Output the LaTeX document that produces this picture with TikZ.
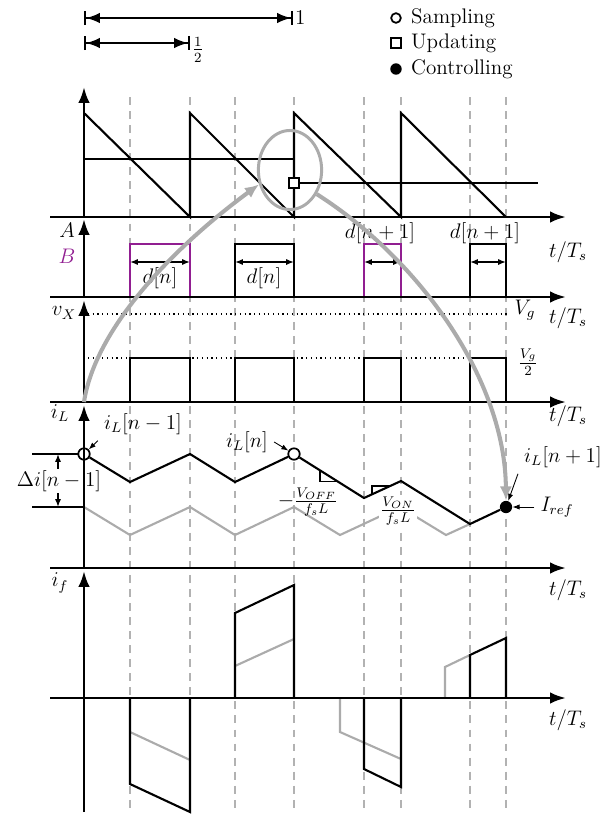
\documentclass[tikz,border=0pt]{standalone}
\usetikzlibrary{arrows.meta,shapes.geometric}
\definecolor{pwmB}{RGB}{145,30,145}
\begin{document}
\begin{tikzpicture}[x=0.02cm,y=-0.02cm,
    every node/.style={font=\large},
    axis/.style={line width=1.5pt,-{Latex[length=9pt,width=6.5pt]}},
    wave/.style={line width=1.2pt},
    ghost/.style={line width=1.2pt,black!33},
    tick/.style={black!30,line width=0.7pt,dash pattern=on 4.5pt off 3.5pt},
    dim/.style={line width=0.8pt,{Latex[length=4.5pt,width=3.5pt]}-{Latex[length=4.5pt,width=3.5pt]}},
    period/.style={line width=1.1pt,{Bar[width=8pt]Latex[length=8pt,width=6pt]}-{Latex[length=8pt,width=6pt]Bar[width=8pt]}},
    pointer/.style={line width=0.5pt,-{Latex[length=4pt,width=3pt]}},
    bigarrow/.style={black!33,line width=2.3pt,-{Latex[length=8pt,width=7pt]}},
    samp/.style={circle,draw,fill=white,line width=1pt,inner sep=0pt,minimum size=6.5pt},
    upd/.style={rectangle,draw,fill=white,line width=1pt,inner sep=0pt,minimum size=6pt},
    ctrl/.style={circle,fill=black,inner sep=0pt,minimum size=7pt}]
\useasboundingbox (0,0) rectangle (616,816);

% period marks and legend
\coordinate (p0) at (84,18);
\coordinate (p1) at (293,18);
\coordinate (h0) at (84,43);
\coordinate (h1) at (190,43);
\draw[period] (p0) -- (p1);
\draw[period] (h0) -- (h1);
\node[anchor=west,inner sep=1pt] (one) at (p1) {$1$};
\node[anchor=west,inner sep=1pt] (half) at ([yshift=-4pt]h1) {$\frac{1}{2}$};
\node[samp,minimum size=5.5pt] (lgsamp) at (396,18) {};
\node[upd,minimum size=5.5pt] (lgupd) at (396,43) {};
\node[ctrl,minimum size=6.5pt] (lgctrl) at (396,69) {};
\node[anchor=west] (lgsampt) at (405,18) {Sampling};
\node[anchor=west] (lgupdt) at (405,43) {Updating};
\node[anchor=west] (lgctrlt) at (405,69) {Controlling};

\foreach \t in {130,190,235,294,364,401,470,506}
  \draw[tick] (\t,97) -- (\t,812);

% carrier and modulating signal
\draw[wave] (84,113) -- (190,217) -- (190,113) -- (294,217) -- (294,113) -- (401,217) -- (401,113) -- (506,217);
\node[upd] (upd1) at (294,183) {};
\draw[wave] (84,159) -- (294,159);
\draw[wave] (upd1) -- (538,183);
\draw[axis] (50,217) -- (566,217);
\draw[axis] (84,217) -- (84,87);
\node (tt1) at (568,252) {$t/T_s$};

% gate signals
\draw[wave,pwmB] (130,297) -- (130,244) -- (190,244) -- (190,297);
\draw[wave] (235,297) -- (235,244) -- (294,244) -- (294,297);
\draw[wave,pwmB] (364,297) -- (364,244) -- (401,244) -- (401,297);
\draw[wave] (470,297) -- (470,244) -- (506,244) -- (506,297);
\draw[dim] (130,262) -- (190,262);
\draw[dim] (235,262) -- (294,262);
\draw[dim] (364,262) -- (401,262);
\draw[dim] (470,262) -- (506,262);
\node (dn1) at (160,278) {$d[n]$};
\node (dn2) at (264,278) {$d[n]$};
\node (dn3) at (380,233) {$d[n+1]$};
\node (dn4) at (485,233) {$d[n+1]$};
\node (lA) at (67,230) {$A$};
\node[text=pwmB] (lB) at (67,256) {$B$};
\draw[axis] (50,297) -- (566,297);
\draw[axis] (84,297) -- (84,219);
\node (tt2) at (568,318) {$t/T_s$};

% switch node voltage
\draw[dotted,line width=0.7pt] (88,314) -- (510,314);
\draw[dotted,line width=0.7pt] (88,358) -- (506,358);
\node (vg) at (525,310) {$V_g$};
\node (vg2) at (528,362) {$\frac{V_g}{2}$};
\foreach \a/\b in {130/190,235/294,364/401,470/506}
  \draw[wave] (\a,402) -- (\a,358) -- (\b,358) -- (\b,402);
\node (lvx) at (64,313) {$v_X$};
\draw[axis] (50,402) -- (566,402);
\coordinate (vxo) at (84,402);
\draw[axis] (vxo) -- (84,300);
\node (tt3) at (568,416) {$t/T_s$};

% inductor current
\draw[wave] (32,454) -- (84,454);
\draw[wave] (32,507) -- (84,507);
\draw[dim] (58,454) -- (58,507);
\node[fill=white,inner sep=1pt] (di) at (59,481) {$\Delta i[n-1]$};
\draw[ghost] (84,507) -- (130,535) -- (190,507) -- (235,535) -- (294,507) -- (340,535) -- (400,507) -- (446,535) -- (470,524);
\node[samp] (s1) at (84,454) {};
\node[samp] (s2) at (294,454) {};
\node[ctrl] (ctl) at (506,507) {};
\draw[wave] (s1) -- (130,482) -- (190,454) -- (235,482) -- (s2) -- (364,498) -- (401,481) -- (470,524) -- (ctl);
\draw[line width=0.6pt] (320,470) -- (320,481.5) -- (339,481.5);
\draw[line width=0.6pt] (372,494.3) -- (372,486) -- (389.7,486);
\node (voff) at (308,502) {$-\frac{V_{OFF}}{f_sL}$};
\node[fill=white,inner sep=1pt] (von) at (398,511) {$\frac{V_{ON}}{f_sL}$};
\node (l1) at (143,424) {$i_L[n-1]$};
\node (l2) at (247,442) {$i_L[n]$};
\node (l3) at (563,457) {$i_L[n+1]$};
\node (iref) at (557,507) {$I_{ref}$};
\draw[pointer] (l1.south west) -- (s1);
\draw[pointer] (l2.east) -- (s2);
\draw[pointer] (l3.south west) -- (ctl);
\draw[pointer] (iref.west) -- (ctl);
\node (liL) at (60,413) {$i_L$};
\draw[axis] (50,568) -- (566,568);
\draw[axis] (84,568) -- (84,405);
\node (tt4) at (568,590) {$t/T_s$};

% filter current
\draw[ghost] (130,732) -- (190,760);
\draw[ghost] (235,666) -- (294,639);
\draw[ghost] (340,698) -- (340,732) -- (401,759);
\draw[ghost] (445,698) -- (445,667) -- (470,655);
\draw[wave] (130,698) -- (130,784) -- (190,812) -- (190,698);
\draw[wave] (235,698) -- (235,613) -- (294,585) -- (294,698);
\draw[wave] (364,698) -- (364,769) -- (401,787) -- (401,698);
\draw[wave] (470,698) -- (470,655) -- (506,638) -- (506,698);
\node (lif) at (60,583) {$i_f$};
\draw[axis] (50,698) -- (566,698);
\draw[axis] (84,812) -- (84,571);
\node (tt5) at (568,720) {$t/T_s$};

% update zone
\node[ellipse,draw=black!33,line width=1.7pt,minimum width=36pt,minimum height=45pt] (zone) at (290,170) {};
\draw[bigarrow] (vxo) .. controls (95,330) and (170,250) .. (zone.205);
\draw[bigarrow] (zone.318) .. controls (420,260) and (505,380) .. (ctl.north);
\end{tikzpicture}
\end{document}
